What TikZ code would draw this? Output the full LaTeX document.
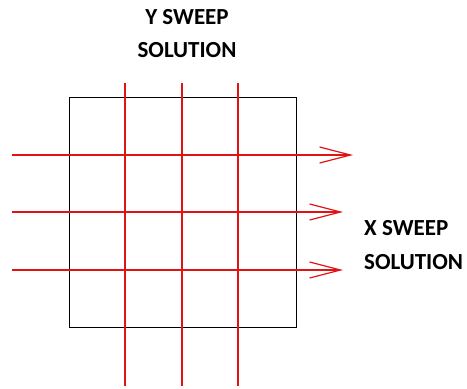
\documentclass[tikz,border=0pt]{standalone}
\usepackage{fontspec}
\setmainfont{Carlito}
\usetikzlibrary{arrows.meta}
\tikzset{
  gridbox/.style={draw=black, line width=1.4pt},
  sweep/.style={draw={rgb,255:red,225;green,20;blue,20}, line width=1.4pt},
  sweeparrow/.style={sweep, -{Straight Barb[length=31pt,width=16pt,line width=1.2pt]}},
  lbl/.style={font=\bfseries\fontsize{23}{27}\selectfont, inner sep=0pt}
}
\begin{document}
\begin{tikzpicture}[x=1pt,y=-1pt]
\useasboundingbox (0,0) rectangle (467,389);
\node[gridbox, minimum width=227pt, minimum height=230pt, inner sep=0pt, anchor=north west] (box) at (69,97) {};
% vertical sweep lines
\foreach \i/\x in {1/125,2/182,3/238}{
  \coordinate (vt\i) at (\x,83);
  \coordinate (vb\i) at (\x,386);
  \draw[sweep] (vt\i) -- (vb\i);
}
% horizontal sweep arrows
\coordinate (hl1) at (12,155); \coordinate (hr1) at (353,155);
\coordinate (hl2) at (12,212); \coordinate (hr2) at (343,212);
\coordinate (hl3) at (12,270); \coordinate (hr3) at (343,270);
\draw[sweeparrow] (hl1) -- (hr1);
\draw[sweeparrow] (hl2) -- (hr2);
\draw[sweeparrow] (hl3) -- (hr3);
\node[lbl] (y1) at (187,17) {Y SWEEP};
\node[lbl] (y2) at (187,50) {SOLUTION};
\node[lbl, anchor=west] (x1) at (364,228) {X SWEEP};
\node[lbl, anchor=west] (x2) at (364,262) {SOLUTION};
\end{tikzpicture}
\end{document}
